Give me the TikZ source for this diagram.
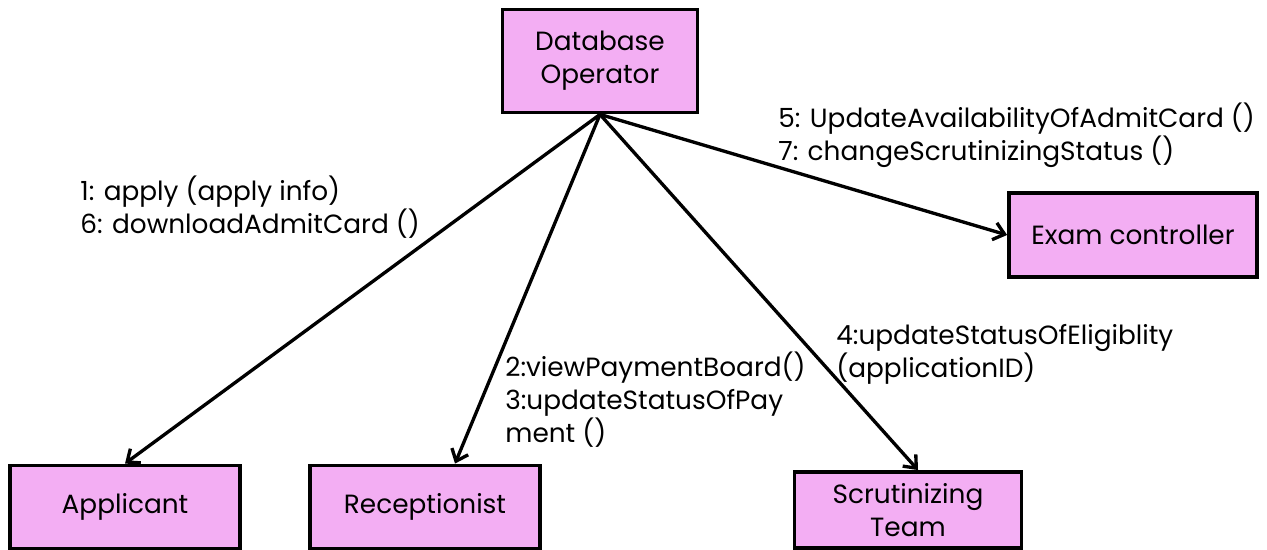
\documentclass[tikz,border=0pt]{standalone}
\usepackage{fontspec}
\setmainfont{Poppins}
\usepackage{tikz}
\usetikzlibrary{positioning,calc,arrows.meta}
\definecolor{BoxPink}{HTML}{F3AEF3}

\begin{document}
\begin{tikzpicture}[x=0.02cm, y=-0.02cm,
    actor/.style={draw=black, line width=2.2pt, fill=BoxPink, align=center,
      font=\fontsize{15}{18.7}\selectfont, inner sep=0pt},
    msg/.style={line width=1.9pt, -{Straight Barb[length=6pt,width=10pt,line width=1.9pt]}},
    lbl/.style={anchor=north west, align=left, inner sep=0pt,
      font=\fontsize{15}{18.7}\selectfont}]
  \useasboundingbox (0,0) rectangle (1267,550);
  %% objects
  \node[actor, minimum width=195*0.02cm, minimum height=103*0.02cm]
    (dbop) at (600,61) {Database\\Operator};
  \node[actor, minimum width=248*0.02cm, minimum height=84*0.02cm]
    (exam) at (1133,235) {Exam controller};
  \node[actor, minimum width=230*0.02cm, minimum height=83*0.02cm]
    (appl) at (125,507) {Applicant};
  \node[actor, minimum width=230*0.02cm, minimum height=83*0.02cm]
    (recp) at (425,507) {Receptionist};
  \node[actor, minimum width=227*0.02cm, minimum height=76*0.02cm]
    (scrt) at (908,510) {Scrutinizing\\Team};
  %% links
  \draw[msg] (dbop.south) -- (appl.north);
  \draw[msg] (dbop.south) -- ($(recp.north)+(30,0)$);
  \draw[msg] (dbop.south) -- ($(scrt.north)+(10,0)$);
  \draw[msg] (dbop.south) -- (exam.west);
  %% messages
  \node[lbl] (m1) at (80,176) {1: apply (apply info)\\6: downloadAdmitCard ()};
  \node[lbl] (m5) at (778,103) {5: UpdateAvailabilityOfAdmitCard ()\\7: changeScrutinizingStatus ()};
  \node[lbl] (m2) at (505,352) {2:viewPaymentBoard()\\3:updateStatusOfPay\\ment ()};
  \node[lbl] (m4) at (836,324) {4:updateStatusOfEligiblity\\(applicationID)};
\end{tikzpicture}
\end{document}
